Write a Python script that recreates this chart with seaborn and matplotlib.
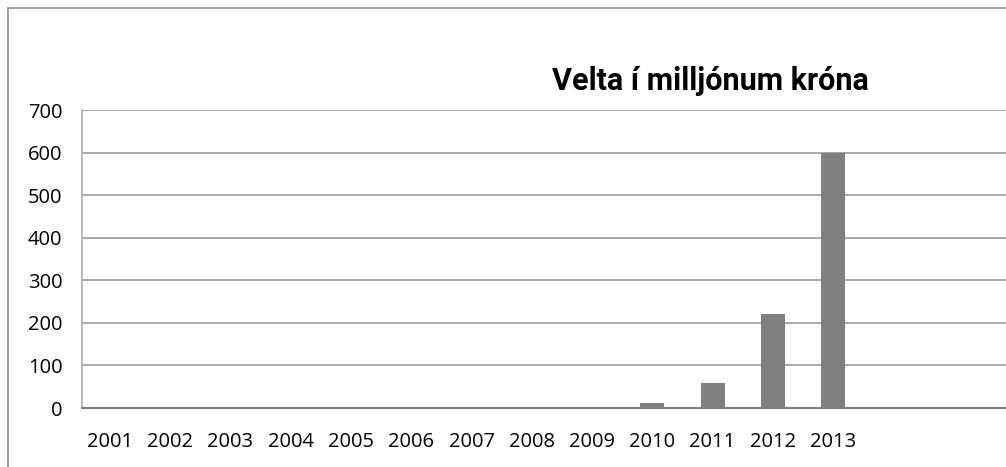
import matplotlib
matplotlib.use("Agg")
import matplotlib.pyplot as plt
from matplotlib.patches import Rectangle
import pandas as pd
import seaborn as sns

# Data
years = ["2001", "2002", "2003", "2004", "2005", "2006", "2007",
         "2008", "2009", "2010", "2011", "2012", "2013"]
velta = [0, 0, 0, 0, 0, 0, 0, 0, 3, 12, 59, 221, 598]
yticks = [0, 100, 200, 300, 400, 500, 600, 700]

df = pd.DataFrame({"year": years, "velta": velta})

sns.set_style("white")
plt.rcParams["font.family"] = ["Open Sans", "DejaVu Sans"]

fig = plt.figure(figsize=(10.06, 4.67), dpi=100)
ax = fig.add_axes([82 / 1006, 59 / 467, 924 / 1006, 298 / 467])

# outer chart frame (cut off at right and bottom like the reference)
fig.patches.append(Rectangle((8 / 1006, -0.1), 1.2, 1 - 8 / 467 + 0.1,
                             transform=fig.transFigure, fill=False,
                             edgecolor="#9a9a9a", linewidth=1.3, zorder=0))

sns.barplot(data=df, x="year", y="velta", order=years, color="#808080",
            saturation=1, width=0.4, linewidth=0, ax=ax, zorder=3)

ax.set_ylim(0, 700)
ax.set_xlim(-0.465, 14.87)
ax.set_yticks(yticks)
ax.set_yticklabels([str(v) for v in yticks])
ax.grid(axis="y", color="#a0a0a0", linewidth=1.3, zorder=0)
ax.set_axisbelow(True)
ax.set_xlabel("")
ax.set_ylabel("")

for side in ["top", "right"]:
    ax.spines[side].set_visible(False)
ax.spines["left"].set_color("#b0b0b0")
ax.spines["left"].set_linewidth(1.2)
ax.spines["bottom"].set_color("#808080")
ax.spines["bottom"].set_linewidth(1.5)
ax.spines["bottom"].set_zorder(4)

ax.tick_params(axis="y", length=0, pad=14, labelsize=14.5, labelcolor="#000000")
ax.tick_params(axis="x", length=0, pad=17, labelsize=14.5, labelcolor="#000000")

fig.text(710 / 1006, 1 - 90 / 467, "Velta í milljónum króna",
         ha="center", va="baseline", fontsize=22, fontweight="bold",
         color="#000000", family=["Roboto", "DejaVu Sans"])

fig.savefig("out.png", dpi=100)
